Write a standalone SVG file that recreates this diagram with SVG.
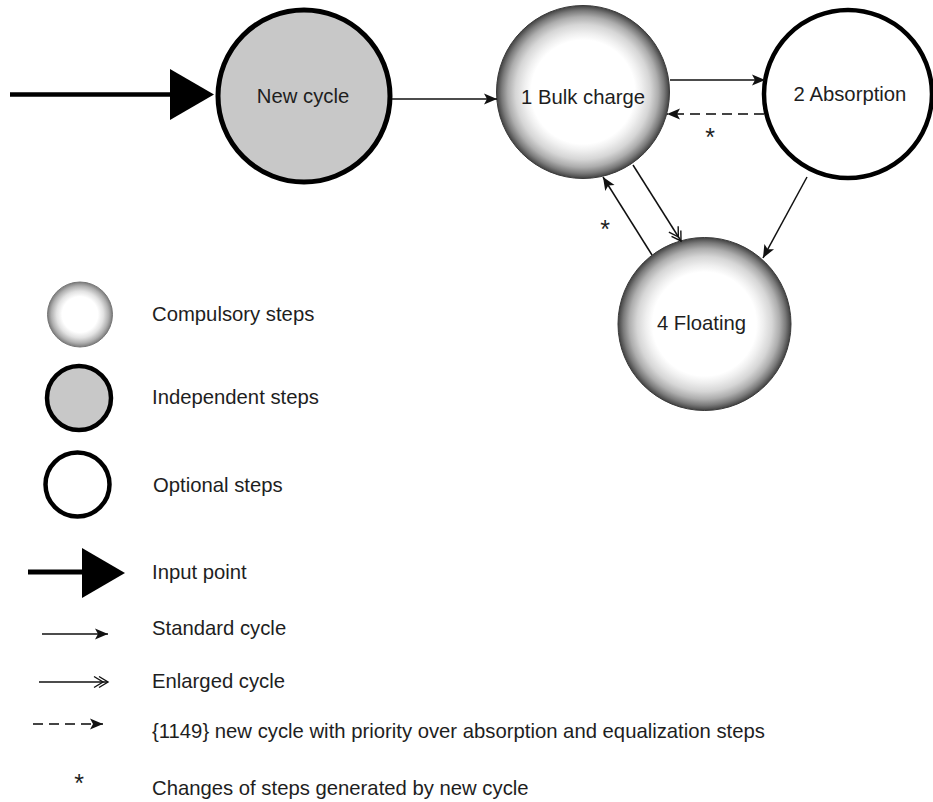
<svg xmlns="http://www.w3.org/2000/svg" width="933" height="802" viewBox="0 0 933 802">
<defs>
<radialGradient id="comp" cx="0.5" cy="0.5" r="0.5">
<stop offset="0" stop-color="#ffffff"/>
<stop offset="0.6" stop-color="#ffffff"/>
<stop offset="0.68" stop-color="#efefef"/>
<stop offset="0.78" stop-color="#d6d6d6"/>
<stop offset="0.87" stop-color="#adadad"/>
<stop offset="0.94" stop-color="#7a7a7a"/>
<stop offset="1" stop-color="#404040"/>
</radialGradient>
<radialGradient id="compLeg" cx="0.5" cy="0.5" r="0.5">
<stop offset="0" stop-color="#ffffff"/>
<stop offset="0.55" stop-color="#ffffff"/>
<stop offset="0.72" stop-color="#e2e2e2"/>
<stop offset="0.88" stop-color="#b0b0b0"/>
<stop offset="1" stop-color="#7a7a7a"/>
</radialGradient>
<marker id="std" markerUnits="userSpaceOnUse" markerWidth="16" markerHeight="14" refX="13" refY="5.5" orient="auto" overflow="visible">
<path d="M0,0 L13,5.5 L0,11 L3,5.5 z" fill="#111"/>
</marker>
<marker id="dbl" markerUnits="userSpaceOnUse" markerWidth="18" markerHeight="14" refX="14" refY="5.5" orient="auto" overflow="visible">
<path d="M0,0 L9,5.5 L0,11 M5,0 L14,5.5 L5,11" fill="none" stroke="#111" stroke-width="1.4"/>
</marker>
</defs>
<style>
text{font-family:"Liberation Sans",Arial,sans-serif;font-size:20.3px;fill:#1e1e1e}
.lbl{text-anchor:middle}
.conn{stroke:#111;stroke-width:1.5;fill:none}
.dash{stroke:#444;stroke-width:2;stroke-dasharray:10,6;fill:none}
.star{font-size:25px;text-anchor:middle}
</style>
<rect width="933" height="802" fill="#ffffff"/>

<g id="input-arrow">
<line x1="10" y1="94.5" x2="172" y2="94.5" stroke="#000" stroke-width="4.5"/>
<polygon points="170,69 214,94.5 170,120" fill="#000"/>
</g>

<g id="node-new-cycle">
<circle cx="304" cy="96" r="86" fill="#c8c8c8" stroke="#000" stroke-width="5"/>
<text class="lbl" x="303" y="103">New cycle</text>
</g>

<g id="node-bulk">
<circle cx="583" cy="92" r="86.5" fill="url(#comp)" stroke="#3a3a3a" stroke-width="1"/>
<text class="lbl" x="583" y="104">1 Bulk charge</text>
</g>

<g id="node-absorption">
<circle cx="848" cy="94" r="84" fill="#fff" stroke="#000" stroke-width="4.5"/>
<text class="lbl" x="850" y="101">2 Absorption</text>
</g>

<g id="node-floating">
<circle cx="704.5" cy="324" r="86.5" fill="url(#comp)" stroke="#3a3a3a" stroke-width="1"/>
<text class="lbl" x="701.5" y="330">4 Floating</text>
</g>

<g id="connectors">
<line class="conn" x1="392" y1="99" x2="497" y2="99" marker-end="url(#std)"/>
<line class="conn" x1="670" y1="80" x2="765" y2="80" marker-end="url(#std)"/>
<line class="dash" x1="764" y1="114" x2="667" y2="114" marker-end="url(#std)"/>
<line class="conn" x1="652" y1="255" x2="603" y2="177" marker-end="url(#std)"/>
<line class="conn" x1="633" y1="165" x2="681" y2="241" marker-end="url(#dbl)"/>
<line class="conn" x1="807" y1="177" x2="763" y2="258" marker-end="url(#std)"/>
<text class="star" x="710" y="146">*</text>
<text class="star" x="605" y="238">*</text>
</g>

<g id="legend">
<circle cx="80" cy="314.5" r="32.5" fill="url(#compLeg)" stroke="#777" stroke-width="1"/>
<text x="152" y="321">Compulsory steps</text>
<circle cx="79" cy="398" r="32" fill="#c8c8c8" stroke="#000" stroke-width="4.5"/>
<text x="152" y="404">Independent steps</text>
<circle cx="77.5" cy="484.5" r="32" fill="#fff" stroke="#000" stroke-width="4.5"/>
<text x="153" y="492">Optional steps</text>
<line x1="28" y1="572" x2="84" y2="572" stroke="#000" stroke-width="5"/>
<polygon points="82,548 125,573 82,598" fill="#000"/>
<text x="152" y="579">Input point</text>
<line class="conn" x1="42" y1="634" x2="108" y2="634" marker-end="url(#std)"/>
<text x="152" y="635">Standard cycle</text>
<line class="conn" x1="39" y1="682" x2="108" y2="682" marker-end="url(#dbl)"/>
<text x="152" y="688">Enlarged cycle</text>
<line class="dash" x1="33" y1="724" x2="103" y2="724" stroke-dasharray="9,6" marker-end="url(#std)"/>
<text x="152" y="738">{1149} new cycle with priority over absorption and equalization steps</text>
<text class="star" x="79" y="792">*</text>
<text x="152" y="795">Changes of steps generated by new cycle</text>
</g>
</svg>
